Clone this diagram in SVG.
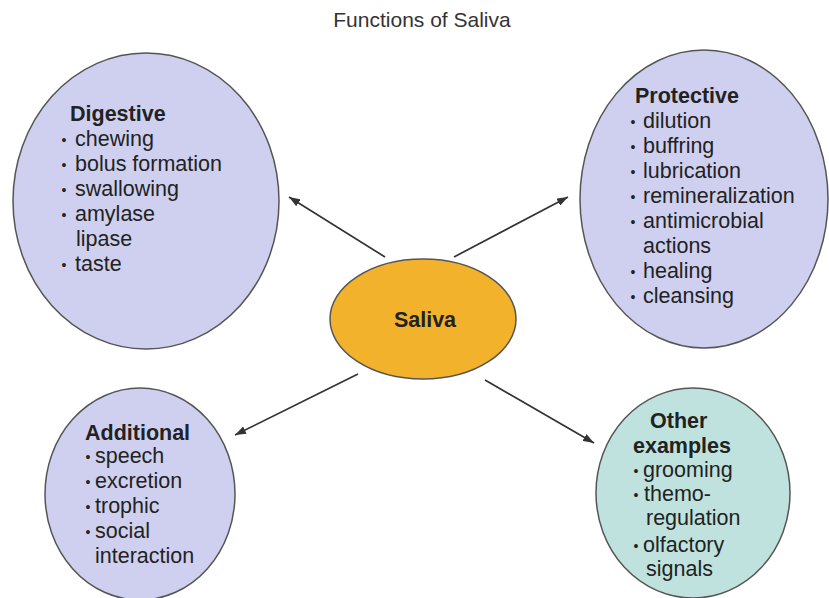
<svg xmlns="http://www.w3.org/2000/svg" width="829" height="598" viewBox="0 0 829 598">
<style>
  text { font-family: "Liberation Sans", Arial, sans-serif; fill: #222; }
  .t { font-size: 21.5px; }
  .h { font-size: 21.5px; font-weight: bold; }
  .b { font-size: 14px; text-anchor: middle; }
  .title { font-size: 21px; fill: #333; text-anchor: middle; }
  .lav { fill: #cfd0ef; stroke: #555; stroke-width: 1.5; }
  .teal { fill: #bfe2df; stroke: #555; stroke-width: 1.5; }
  .org { fill: #f3b22c; stroke: #555; stroke-width: 1.5; }
  .conn line { stroke: #333; stroke-width: 1.7; marker-end: url(#ah); }
</style>
<defs>
  <marker id="ah" markerUnits="userSpaceOnUse" markerWidth="11" markerHeight="8" refX="11" refY="4" orient="auto">
    <path d="M0,0 L11,4 L0,8 z" fill="#333"/>
  </marker>
</defs>
<rect width="829" height="598" fill="#fff"/>
<text class="title" x="422" y="27">Functions of Saliva</text>

<g id="digestive">
  <ellipse class="lav" cx="146" cy="201" rx="133" ry="148"/>
  <text class="h" x="70" y="121">Digestive</text>
  <text class="b" x="64" y="145">•</text><text class="t" x="75" y="146">chewing</text>
  <text class="b" x="64" y="170">•</text><text class="t" x="75" y="171">bolus formation</text>
  <text class="b" x="64" y="195">•</text><text class="t" x="75" y="196">swallowing</text>
  <text class="b" x="64" y="220">•</text><text class="t" x="75" y="221">amylase</text>
  <text class="t" x="76" y="246">lipase</text>
  <text class="b" x="64" y="270">•</text><text class="t" x="75" y="271">taste</text>
</g>

<g id="protective">
  <ellipse class="lav" cx="704" cy="199" rx="124" ry="149"/>
  <text class="h" x="635" y="103">Protective</text>
  <text class="b" x="633" y="127">•</text><text class="t" x="643" y="128">dilution</text>
  <text class="b" x="633" y="152">•</text><text class="t" x="643" y="153">buffring</text>
  <text class="b" x="633" y="177">•</text><text class="t" x="643" y="178">lubrication</text>
  <text class="b" x="633" y="202">•</text><text class="t" x="643" y="203">remineralization</text>
  <text class="b" x="633" y="227">•</text><text class="t" x="643" y="228">antimicrobial</text>
  <text class="t" x="643" y="253">actions</text>
  <text class="b" x="633" y="277">•</text><text class="t" x="643" y="278">healing</text>
  <text class="b" x="633" y="302">•</text><text class="t" x="643" y="303">cleansing</text>
</g>

<g id="additional">
  <ellipse class="lav" cx="140" cy="494" rx="95" ry="106"/>
  <text class="h" x="85" y="440">Additional</text>
  <text class="b" x="88" y="462">•</text><text class="t" x="95" y="463">speech</text>
  <text class="b" x="88" y="487">•</text><text class="t" x="95" y="488">excretion</text>
  <text class="b" x="88" y="512">•</text><text class="t" x="95" y="513">trophic</text>
  <text class="b" x="88" y="537">•</text><text class="t" x="95" y="538">social</text>
  <text class="t" x="95" y="563">interaction</text>
</g>

<g id="other">
  <ellipse class="teal" cx="693" cy="493" rx="97" ry="105"/>
  <text class="h" x="650" y="428">Other</text>
  <text class="h" x="633" y="453">examples</text>
  <text class="b" x="636" y="476">•</text><text class="t" x="643" y="477">grooming</text>
  <text class="b" x="636" y="500">•</text><text class="t" x="644" y="501">themo-</text>
  <text class="t" x="646" y="525">regulation</text>
  <text class="b" x="636" y="551">•</text><text class="t" x="643" y="552">olfactory</text>
  <text class="t" x="646" y="576">signals</text>
</g>

<g id="saliva">
  <ellipse class="org" cx="423" cy="319" rx="93" ry="60"/>
  <text class="h" x="425" y="327" text-anchor="middle">Saliva</text>
</g>

<g id="connectors" class="conn">
  <line x1="385" y1="257" x2="289" y2="197"/>
  <line x1="454" y1="257" x2="568" y2="197"/>
  <line x1="358" y1="374" x2="235" y2="435"/>
  <line x1="485" y1="380" x2="594" y2="443"/>
</g>
</svg>
